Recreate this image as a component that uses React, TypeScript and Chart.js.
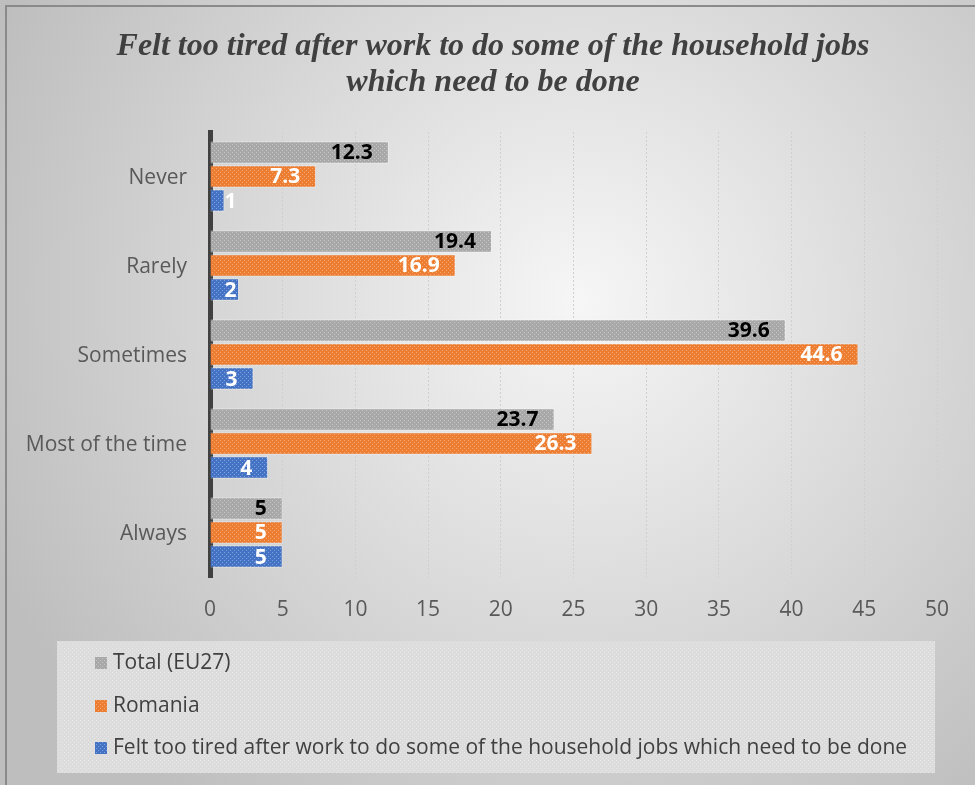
import React, { useEffect, useRef } from "react";
import { Chart, registerables } from "chart.js";

Chart.register(...registerables);

const categories = ["Never", "Rarely", "Sometimes", "Most of the time", "Always"];
const euValues = [12.3, 19.4, 39.6, 23.7, 5];
const romaniaValues = [7.3, 16.9, 44.6, 26.3, 5];
const feltValues = [1, 2, 3, 4, 5];
const seriesNames = [
  "Total (EU27)",
  "Romania",
  "Felt too tired after work to do some of the household jobs which need to be done",
];
const xTicks = [0, 5, 10, 15, 20, 25, 30, 35, 40, 45, 50];
const titleLines = [
  "Felt too tired after work to do some of the household jobs",
  "which need to be done",
];

const W = 975;
const H = 785;

function makePattern(ctx: CanvasRenderingContext2D, base: string, dot: string) {
  const c = document.createElement("canvas");
  c.width = 4;
  c.height = 4;
  const g = c.getContext("2d")!;
  g.fillStyle = base;
  g.fillRect(0, 0, 4, 4);
  g.fillStyle = dot;
  g.fillRect(0, 0, 1, 1);
  g.fillRect(2, 2, 1, 1);
  return ctx.createPattern(c, "repeat")!;
}

export default function App() {
  const ref = useRef<HTMLCanvasElement | null>(null);

  useEffect(() => {
    document.body.style.margin = "0";
    const canvas = ref.current!;
    const ctx = canvas.getContext("2d")!;
    const grayP = makePattern(ctx, "#a8a8a8", "#c6c6c6");
    const orangeP = makePattern(ctx, "#ed7d31", "#f5a775");
    const blueP = makePattern(ctx, "#4472c4", "#82a2da");
    const legendP = makePattern(ctx, "#dcdcdc", "#e8e8e8");
    const swatches = [grayP, orangeP, blueP];
    const labelColors = ["#000000", "#ffffff", "#ffffff"];

    const bgPlugin = {
      id: "bg",
      beforeDraw(chart: any) {
        const c = chart.ctx;
        c.save();
        const g = c.createRadialGradient(580, 300, 0, 580, 300, 640);
        g.addColorStop(0, "#f6f6f6");
        g.addColorStop(1, "#bebebe");
        c.fillStyle = g;
        c.fillRect(0, 0, W, H);
        c.strokeStyle = "#8a8a8a";
        c.lineWidth = 2;
        c.beginPath();
        c.moveTo(6, H);
        c.lineTo(6, 6);
        c.lineTo(W, 6);
        c.stroke();
        // title
        c.fillStyle = "#404040";
        c.font = 'bold italic 32px "Liberation Serif"';
        c.textAlign = "center";
        c.textBaseline = "middle";
        c.fillText(titleLines[0], 493, 47);
        c.fillText(titleLines[1], 493, 83);
        c.restore();
      },
    };

    const labelPlugin = {
      id: "labels",
      afterDatasetsDraw(chart: any) {
        const c = chart.ctx;
        c.save();
        c.font = 'bold 21px "Open Sans"';
        c.textAlign = "right";
        c.textBaseline = "middle";
        chart.data.datasets.forEach((ds: any, di: number) => {
          const meta = chart.getDatasetMeta(di);
          meta.data.forEach((bar: any, i: number) => {
            const txt = String(ds.data[i]);
            const xr = Math.max(bar.x - 16, bar.base + 26);
            c.fillStyle = labelColors[di];
            c.fillText(txt, xr, bar.y + 1);
          });
        });
        c.restore();
      },
      afterDraw(chart: any) {
        const c = chart.ctx;
        c.save();
        c.fillStyle = legendP;
        c.fillRect(57, 641, 878, 132);
        c.font = '21px "Open Sans"';
        c.textAlign = "left";
        c.textBaseline = "middle";
        const ys = [663, 706, 748];
        seriesNames.forEach((n, i) => {
          c.fillStyle = swatches[i];
          c.fillRect(95, ys[i] - 6, 12, 12);
          c.fillStyle = "#404040";
          c.fillText(n, 113, ys[i]);
        });
        c.restore();
      },
    };

    const chart = new Chart(canvas, {
      type: "bar",
      data: {
        labels: categories,
        datasets: [
          { label: seriesNames[0], data: euValues, backgroundColor: grayP, borderColor: "rgba(255,255,255,0.35)", borderWidth: 1 },
          { label: seriesNames[1], data: romaniaValues, backgroundColor: orangeP, borderColor: "rgba(255,255,255,0.35)", borderWidth: 1 },
          { label: seriesNames[2], data: feltValues, backgroundColor: blueP, borderColor: "rgba(255,255,255,0.35)", borderWidth: 1 },
        ],
      },
      options: {
        indexAxis: "y",
        responsive: false,
        animation: false,
        devicePixelRatio: 1,
        layout: { padding: { left: 10, right: 38, top: 132, bottom: 150 } },
        datasets: { bar: { categoryPercentage: 0.81, barPercentage: 0.94 } },
        plugins: { legend: { display: false }, title: { display: false }, tooltip: { enabled: false } },
        scales: {
          x: {
            min: 0,
            max: 50,
            afterBuildTicks: (s: any) => {
              s.ticks = xTicks.map((v) => ({ value: v }));
            },
            afterFit: (s: any) => {
              s.height = H - 150 - 577;
            },
            border: { display: false, dash: [2, 2] },
            grid: { color: "#cfcfcf", lineWidth: 1, drawTicks: false },
            ticks: { color: "#595959", font: { family: "Open Sans", size: 21 }, padding: 20 },
          },
          y: {
            afterFit: (s: any) => {
              s.width = 200;
            },
            border: { display: true, color: "#404040", width: 5 },
            grid: { display: false, drawTicks: false },
            ticks: { color: "#595959", font: { family: "Open Sans", size: 21 }, padding: 23, labelOffset: 2 },
          },
        },
      },
      plugins: [bgPlugin, labelPlugin],
    } as any);
    return () => chart.destroy();
  }, []);

  return <canvas ref={ref} width={W} height={H} style={{ display: "block" }} />;
}
